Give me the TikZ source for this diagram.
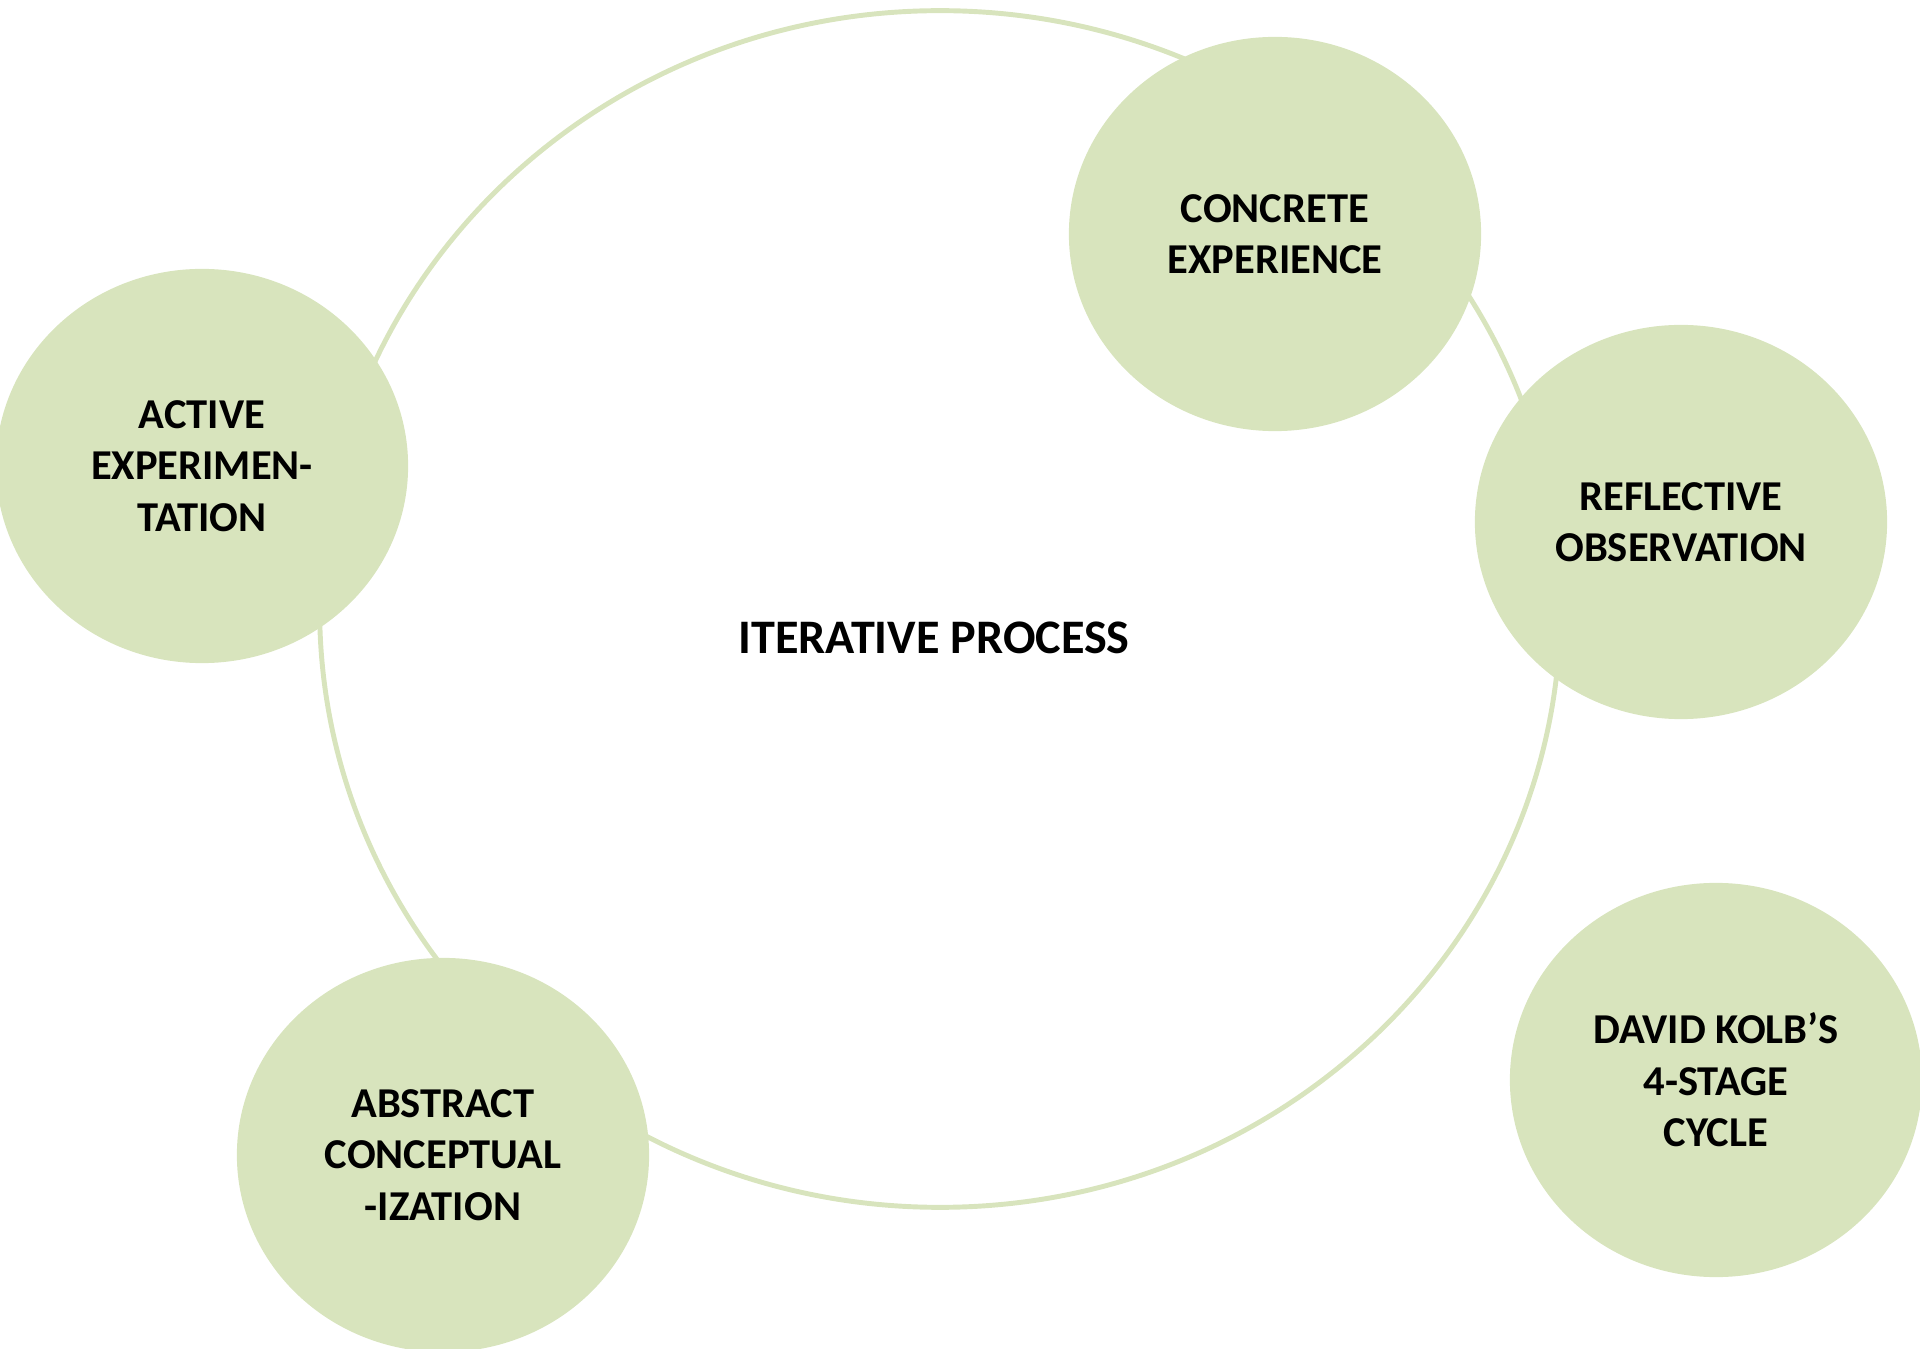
\documentclass[tikz,border=0pt]{standalone}
\usepackage{fontspec}
\setmainfont{Carlito}
\usepackage{xcolor}
\usepackage{tikz}
\usetikzlibrary{positioning,shapes.geometric}

\definecolor{kolbgreen}{RGB}{216,228,189}

\begin{document}
\begin{tikzpicture}[x=0.01cm, y=-0.01cm,
    stage/.style={ellipse, fill=kolbgreen, inner sep=0pt, minimum width=4.12cm, minimum height=3.94cm,
      align=center, font=\fontsize{12.1}{14.6}\selectfont\bfseries}]
    \useasboundingbox (0,0) rectangle (1920,1349);
    % the cycle
    \node[ellipse, draw=kolbgreen, line width=1.4pt, minimum width=12.4cm, minimum height=11.96cm, inner sep=0pt] (cycle) at (940,609) {};
    \node[font=\fontsize{13.7}{15}\selectfont\bfseries] (iter) at (934,638) {ITERATIVE PROCESS};
    % the four stages
    \node[stage] (ce) at (1275,234) {CONCRETE\\EXPERIENCE};
    \node[stage] (ro) at (1681,522) {REFLECTIVE\\OBSERVATION};
    \node[stage] (ac) at (443,1155) {ABSTRACT\\CONCEPTUAL\\-IZATION};
    \node[stage] (ae) at (202,466) {ACTIVE\\EXPERIMEN-\\TATION};
    \node[stage] (kolb) at (1716,1080) {DAVID KOLB’S\\4-STAGE\\CYCLE};
\end{tikzpicture}
\end{document}
